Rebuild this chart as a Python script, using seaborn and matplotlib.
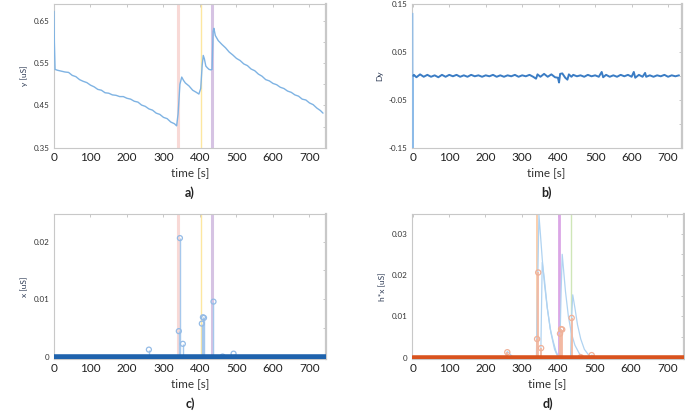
import matplotlib
matplotlib.use("Agg")
import matplotlib.pyplot as plt
import seaborn as sns
import pandas as pd

# a) measured signal y [uS]
t_a = [0, 1, 3, 10, 20, 30, 40, 50, 60, 70, 80, 90, 100, 110, 120, 130, 140, 150, 160, 170,
       180, 190, 200, 210, 220, 230, 240, 250, 260, 270, 280, 290, 300, 310, 320, 330, 336,
       340, 345, 350, 355, 360, 370, 380, 390, 397, 402, 406, 409, 412, 416, 420, 425, 430,
       433, 436, 438, 442, 450, 460, 470, 480, 490, 500, 510, 520, 530, 540, 550, 560, 570,
       580, 590, 600, 610, 620, 630, 640, 650, 660, 670, 680, 690, 700, 710, 720, 730, 737]
y_a = [0.672, 0.600, 0.535, 0.533, 0.531, 0.529, 0.528, 0.521, 0.518, 0.511, 0.507, 0.504,
       0.498, 0.494, 0.488, 0.486, 0.480, 0.479, 0.475, 0.474, 0.471, 0.471, 0.467, 0.465,
       0.460, 0.458, 0.451, 0.448, 0.442, 0.439, 0.432, 0.429, 0.422, 0.419, 0.411, 0.407,
       0.402, 0.430, 0.500, 0.517, 0.509, 0.503, 0.496, 0.486, 0.481, 0.477, 0.490, 0.545,
       0.568, 0.560, 0.543, 0.539, 0.535, 0.534, 0.535, 0.625, 0.632, 0.615, 0.603, 0.594,
       0.586, 0.576, 0.569, 0.561, 0.556, 0.548, 0.544, 0.536, 0.532, 0.524, 0.519, 0.511,
       0.508, 0.502, 0.499, 0.493, 0.490, 0.484, 0.481, 0.475, 0.472, 0.465, 0.463, 0.456,
       0.452, 0.444, 0.438, 0.432]

# b) derivative Dy
t_b = [0, 0.5, 1.5, 3, 10, 20, 30, 40, 50, 60, 70, 80, 90, 100, 110, 120, 130, 140, 150, 160,
       170, 180, 190, 200, 210, 220, 230, 240, 250, 260, 270, 280, 290, 300, 310, 320, 330,
       338, 342, 350, 360, 370, 380, 390, 398, 401, 404, 410, 418, 424, 428, 435, 440, 450,
       460, 470, 480, 490, 500, 510, 518, 522, 530, 540, 550, 560, 570, 580, 590, 600, 606,
       610, 620, 630, 637, 640, 650, 660, 670, 680, 690, 700, 710, 720, 730]
dy_b = [0.13, -0.15, 0.0, 0.002, -0.003, 0.003, -0.002, 0.002, -0.002, 0.001, -0.003, 0.002,
        -0.002, 0.002, -0.001, 0.002, -0.002, 0.001, -0.002, 0.002, -0.001, 0.001, -0.002,
        0.001, -0.001, 0.002, -0.002, 0.001, -0.002, 0.001, -0.001, 0.002, -0.002, 0.001,
        -0.001, 0.002, -0.002, -0.006, 0.003, -0.002, 0.004, -0.002, 0.003, -0.003, -0.004,
        -0.014, 0.004, 0.005, -0.004, -0.008, 0.003, -0.002, 0.002, -0.001, 0.001, -0.002,
        0.002, -0.001, 0.001, -0.002, 0.008, -0.003, 0.002, -0.002, 0.001, -0.002, 0.002,
        -0.001, 0.002, -0.002, 0.008, -0.004, 0.002, -0.002, 0.006, -0.002, 0.001, -0.002,
        0.001, -0.001, 0.002, -0.002, 0.001, -0.001, 0.001]

# c) estimated driver x [uS]
t_x = [260, 342, 345, 353, 405, 408, 411, 437, 462, 492]
v_x = [0.0013, 0.0045, 0.0206, 0.0023, 0.0058, 0.0069, 0.0068, 0.0096, 0.0001, 0.0006]
baseline_t = [0, 745]
baseline_v = [0, 0]

# d) response h*x [uS], one decay curve per burst
resp = {
    "r1": ([255, 260, 265, 272, 280], [0.0, 0.0015, 0.0011, 0.0004, 0.0]),
    "r2": ([340, 344, 347, 351, 356, 362, 370, 378, 386, 394, 402],
           [0.0, 0.020, 0.0345, 0.030, 0.024, 0.018, 0.012, 0.007, 0.004, 0.0015, 0.0]),
    "r3": ([352, 356, 362, 370, 380, 390, 400],
           [0.0, 0.023, 0.019, 0.012, 0.006, 0.002, 0.0]),
    "r4": ([404, 408, 411, 415, 420, 428, 436, 446, 458, 470],
           [0.0, 0.016, 0.025, 0.021, 0.016, 0.010, 0.006, 0.003, 0.001, 0.0]),
    "r5": ([434, 437, 440, 446, 453, 462, 472, 484, 495],
           [0.0, 0.010, 0.0152, 0.012, 0.008, 0.0045, 0.002, 0.0006, 0.0]),
    "r6": ([488, 492, 498, 506], [0.0, 0.0006, 0.0004, 0.0]),
}

# event markers
events_ac = [339, 402, 432]
events_d = [342, 401, 434]

sns.set_theme(style="white")
plt.rcParams["font.family"] = ["Lato", "DejaVu Sans"]

fig = plt.figure(figsize=(6.85, 4.12), dpi=100)
ax_a = fig.add_axes([0.0788, 0.641, 0.397, 0.350])
ax_b = fig.add_axes([0.601, 0.641, 0.394, 0.350])
ax_c = fig.add_axes([0.0788, 0.129, 0.397, 0.352])
ax_d = fig.add_axes([0.601, 0.129, 0.397, 0.352])

line_blue = "#7fb3e3"
dark_blue = "#1f63ad"
orange = "#d9531e"

# a
for ev, col, lw in zip(events_ac, ["#f8d9d6", "#fde7a0", "#d6c3e3"], [2.2, 1.0, 2.2]):
    ax_a.axvline(ev, color=col, lw=lw, zorder=1)
sns.lineplot(x=t_a, y=y_a, ax=ax_a, color=line_blue, lw=1.0, zorder=3)
ax_a.set_xlim(0, 745)
ax_a.set_ylim(0.35, 0.69)
ax_a.set_yticks([0.35, 0.45, 0.55, 0.65])
ax_a.set_yticklabels(["0.35", "0.45", "0.55", "0.65"])
ax_a.set_yticks([0.40, 0.50, 0.60], minor=True)
ax_a.set_ylabel("y [uS]")

# b
sns.lineplot(x=t_b[:4], y=dy_b[:4], ax=ax_b, color="#8dbbe8", lw=0.9, zorder=3)
sns.lineplot(x=t_b[2:], y=dy_b[2:], ax=ax_b, color="#3a7cc4", lw=1.4, zorder=3)
ax_b.set_xlim(-3, 737)
ax_b.set_ylim(-0.15, 0.15)
ax_b.set_yticks([-0.15, -0.05, 0.05, 0.15])
ax_b.set_yticklabels(["-0.15", "-0.05", "0.05", "0.15"])
ax_b.set_yticks([-0.10, 0.0, 0.10], minor=True)
ax_b.set_ylabel("Dy")

# c
for ev, col, lw in zip(events_ac, ["#f8d9d6", "#fde7a0", "#d6c3e3"], [2.2, 1.0, 2.2]):
    ax_c.axvline(ev, color=col, lw=lw, zorder=1)
ax_c.vlines(t_x, 0, v_x, color="#a6c8ec", lw=1.0, zorder=2)
sns.scatterplot(x=t_x, y=v_x, ax=ax_c, s=13, marker="o", facecolor="none",
                edgecolor="#94bbe6", linewidth=0.9, zorder=3)
sns.lineplot(x=baseline_t, y=baseline_v, ax=ax_c, color=dark_blue, lw=4.0, zorder=4)
ax_c.set_xlim(0, 745)
ax_c.set_ylim(-0.0003, 0.0248)
ax_c.set_yticks([0, 0.01, 0.02])
ax_c.set_yticklabels(["0", "0.01", "0.02"])
ax_c.set_yticks([0.005, 0.015], minor=True)
ax_c.set_ylabel("x [uS]")

# d
for ev, col, lw in zip(events_d, ["#f9cfae", "#dba6e6", "#cfe6b8"], [1.4, 2.0, 1.0]):
    ax_d.axvline(ev, color=col, lw=lw, zorder=1)
for name, (tt, vv) in resp.items():
    sns.lineplot(x=tt, y=vv, ax=ax_d, color="#b0d3f1", lw=0.9, zorder=2)
ax_d.vlines(t_x, 0, v_x, color="#f3b9a2", lw=1.3, zorder=3)
sns.scatterplot(x=t_x, y=v_x, ax=ax_d, s=14, marker="o", facecolor="none",
                edgecolor="#efb199", linewidth=0.9, zorder=3)
sns.lineplot(x=baseline_t, y=baseline_v, ax=ax_d, color=orange, lw=4.0, zorder=4)
ax_d.set_xlim(-3, 745)
ax_d.set_ylim(-0.0003, 0.0348)
ax_d.set_yticks([0, 0.01, 0.02, 0.03])
ax_d.set_yticklabels(["0", "0.01", "0.02", "0.03"])
ax_d.set_yticks([0.005, 0.015, 0.025], minor=True)
ax_d.set_ylabel("h*x [uS]")

for ax, tag in zip([ax_a, ax_b, ax_c, ax_d], ["a)", "b)", "c)", "d)"]):
    ax.set_xticks(range(0, 701, 100))
    ax.set_xticklabels([str(v) for v in range(0, 701, 100)])
    ax.tick_params(axis="x", labelsize=8.5, labelcolor="#222222", pad=3)
    ax.tick_params(axis="y", labelsize=5.8, labelcolor="#333333", pad=3)
    ax.tick_params(which="both", direction="in", top=True, right=True,
                   length=2.5, width=0.6, color="#bfbfbf")
    ax.yaxis.label.set_size(6)
    ax.yaxis.label.set_color("#2e3b55")
    ax.set_xlabel("time [s]", fontsize=8.5, color="#333333", labelpad=3)
    for sp in ax.spines.values():
        sp.set_color("#c8c8c8")
        sp.set_linewidth(0.8)
    ax.spines["right"].set_linewidth(1.6)
    ax.text(0.5, -0.31, tag, transform=ax.transAxes, ha="center", va="center",
            fontsize=9, fontweight="bold", color="#222222")

fig.savefig("out.png", dpi=100)
